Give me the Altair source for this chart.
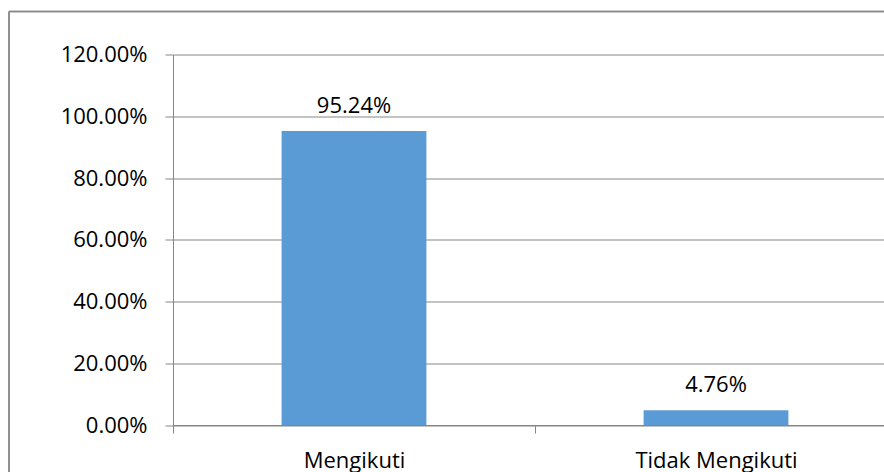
import altair as alt
import pandas as pd

categories = ["Mengikuti", "Tidak Mengikuti"]
values = [95.24, 4.76]
labels = ["95.24%", "4.76%"]
y_ticks = [0, 20, 40, 60, 80, 100, 120]

df = pd.DataFrame({"cat": categories, "val": values, "label": labels})

FONT = "Open Sans"
GRID = "#868686"

x = alt.X("cat:N", sort=categories, title=None,
          scale=alt.Scale(range=[0, 724], paddingInner=0, paddingOuter=0),
          axis=alt.Axis(labelAngle=0, tickBand="extent", tickSize=8, tickColor=GRID,
                        domainColor=GRID, labelFont=FONT, labelFontSize=22,
                        labelColor="black", labelBaseline="alphabetic", labelPadding=34,
                        grid=False))
y = alt.Y("val:Q", title=None,
          scale=alt.Scale(domain=[0, 120], nice=False),
          axis=alt.Axis(values=y_ticks, labelExpr="format(datum.value, '.2f') + '%'",
                        tickSize=8, tickColor=GRID, domainColor=GRID, gridColor=GRID,
                        labelFont=FONT, labelFontSize=22, labelColor="black",
                        labelPadding=18, grid=True))

bars = alt.Chart(df).mark_bar(color="#5B9BD5", width=alt.RelativeBandSize(0.4)).encode(x=x, y=y)
text = alt.Chart(df).mark_text(font=FONT, fontSize=22, color="black",
                               baseline="alphabetic", dy=-18).encode(
    x=alt.X("cat:N", sort=categories), y="val:Q", text="label:N")

border_left = alt.Chart(df).mark_rule(color="#898989", strokeWidth=1.5, clip=False).encode(
    x=alt.value(-164), y=alt.value(-43), y2=alt.value(460))
border_top = alt.Chart(df).mark_rule(color="#898989", strokeWidth=1.5, clip=False).encode(
    x=alt.value(-164), x2=alt.value(760), y=alt.value(-43))

chart = alt.layer(border_left, border_top, bars, text).properties(
    width=711, height=370.5,
    autosize=alt.AutoSizeParams(type="none"),
    padding={"left": 173, "top": 54.5, "right": 0, "bottom": 47},
    background="white",
).configure_view(stroke=None)

chart.save("out.html", embed_options={"renderer": "svg", "actions": False})
